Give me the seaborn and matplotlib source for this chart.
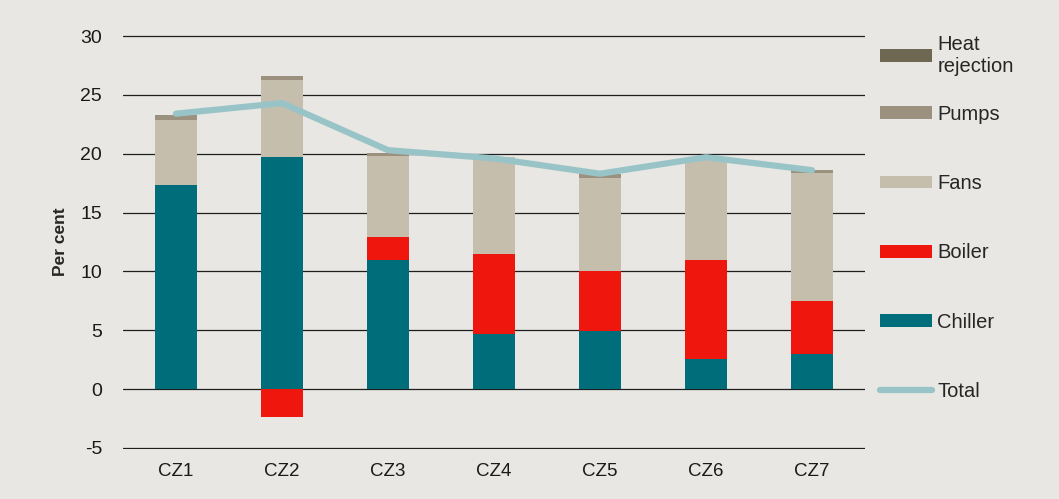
import numpy as np
import pandas as pd
import matplotlib.pyplot as plt
import seaborn as sns
from matplotlib.patches import Patch
from matplotlib.lines import Line2D

zones = ['CZ1', 'CZ2', 'CZ3', 'CZ4', 'CZ5', 'CZ6', 'CZ7']
chiller = [17.3, 19.7, 11.0, 4.7, 4.9, 2.6, 3.0]
boiler = [0.0, -2.4, 1.9, 6.8, 5.1, 8.4, 4.5]
fans = [5.6, 6.6, 6.9, 8.2, 7.9, 8.5, 10.9]
pumps = [0.4, 0.3, 0.3, 0.0, 0.4, 0.0, 0.2]
heat_rejection = [0.0, 0.0, 0.0, 0.0, 0.0, 0.0, 0.0]
total = [23.4, 24.3, 20.3, 19.6, 18.3, 19.7, 18.6]
yticks = [-5, 0, 5, 10, 15, 20, 25, 30]

series = {
    'Chiller': (chiller, '#006d7a'),
    'Boiler': (boiler, '#ee160d'),
    'Fans': (fans, '#c5bead'),
    'Pumps': (pumps, '#9c917f'),
    'Heat rejection': (heat_rejection, '#6e6752'),
}
bg = '#e8e7e3'

sns.set_style('white', {'axes.facecolor': bg, 'figure.facecolor': bg})
plt.rcParams['font.family'] = ['Liberation Sans', 'DejaVu Sans']
plt.rcParams['axes.unicode_minus'] = False

fig = plt.figure(figsize=(10.59, 4.99), dpi=100)
# y limits padded a hair so the -5 and 30 gridlines are not clipped
ymin, ymax = -5.1, 30.1
px = 11.77
ax = fig.add_axes([123 / 1059, 1 - (448 + 0.1 * px) / 499, 742 / 1059, (412 + 0.2 * px) / 499])

# horizontal rules behind the bars
for t in yticks:
    ax.axhline(t, color='#1e1e1e', linewidth=0.9, zorder=1)

# stack positives upward, negatives downward
pos_base = np.zeros(len(zones))
neg_base = np.zeros(len(zones))
for name, (vals, col) in series.items():
    vals = np.array(vals, dtype=float)
    bottom = np.where(vals >= 0, pos_base, neg_base)
    sns.barplot(x=zones, y=vals, bottom=bottom, color=col, width=0.4,
                errorbar=None, saturation=1, ax=ax, linewidth=0)
    pos_base += np.clip(vals, 0, None)
    neg_base += np.clip(vals, None, 0)
for p in ax.patches:
    p.set_zorder(3)

line_df = pd.DataFrame({'pos': np.arange(len(zones)), 'total': total})
sns.lineplot(data=line_df, x='pos', y='total', color='#98c4c8', linewidth=4.5,
             solid_capstyle='round', ax=ax, zorder=4)

ax.grid(False)
ax.set_xlim(-0.5, len(zones) - 0.5)
ax.set_ylim(ymin, ymax)
ax.set_yticks(yticks)
ax.set_xticks(range(len(zones)))
ax.set_xticklabels(zones)
sns.despine(ax=ax, left=True, bottom=True)
ax.tick_params(axis='y', length=0, pad=15, labelsize=14, colors='#1a1a1a')
ax.tick_params(axis='x', length=0, pad=10, labelsize=13.5, colors='#1a1a1a')
ax.set_xlabel('')
ax.set_ylabel('Per cent', fontsize=12.5, fontweight='bold', labelpad=9)

# legend, top entry kept separate for its two-line label
h_heat = [Patch(facecolor=series['Heat rejection'][1], edgecolor='none')]
h_rest = [Patch(facecolor=series[n][1], edgecolor='none') for n in ['Pumps', 'Fans', 'Boiler', 'Chiller']]
h_rest.append(Line2D([0], [0], color='#98c4c8', linewidth=4.5, solid_capstyle='round'))
common = dict(frameon=False, fontsize=14.5, handlelength=2.6, handleheight=0.6,
              handletextpad=0.25, borderpad=0, borderaxespad=0, loc='center left')
fig.legend(h_heat, ['Heat\nrejection'], bbox_to_anchor=(880 / 1059, 1 - 55 / 499), **common)
fig.legend(h_rest, ['Pumps', 'Fans', 'Boiler', 'Chiller', 'Total'],
           bbox_to_anchor=(880 / 1059, 1 - 253 / 499), labelspacing=2.5, **common)

plt.savefig('out.png', dpi=100, facecolor=bg)
